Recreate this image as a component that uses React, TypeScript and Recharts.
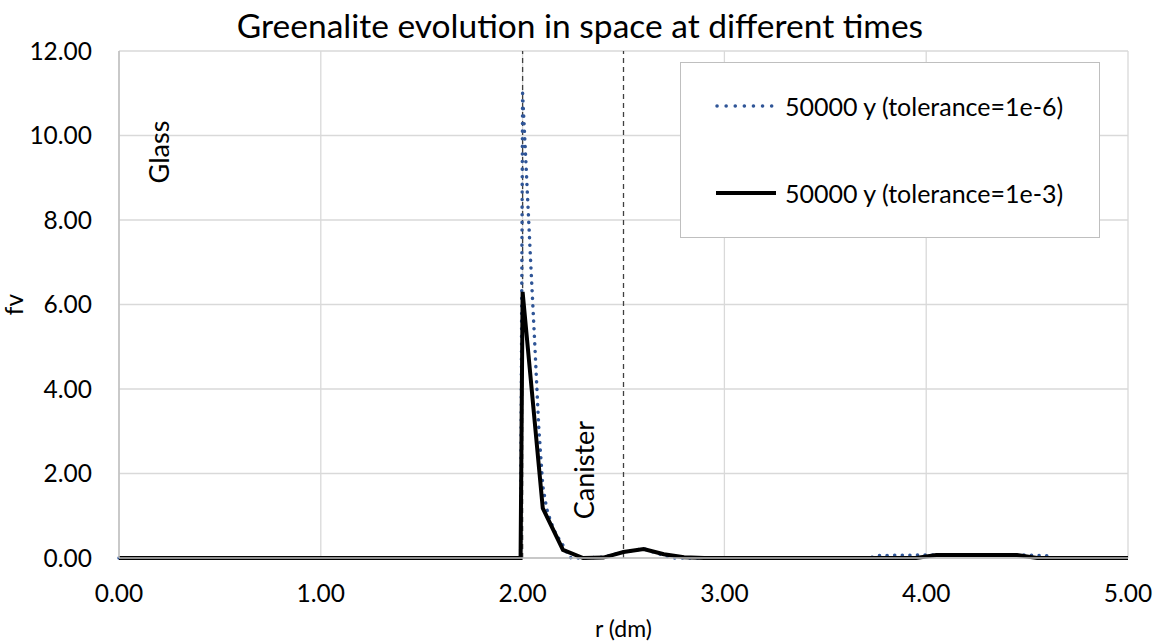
import { LineChart, Line, XAxis, YAxis, CartesianGrid, ReferenceLine, ReferenceArea, Legend } from 'recharts';

const FONT = 'Lato, "Open Sans", sans-serif';

// r (dm) positions and fv values, 50000 y, tolerance 1e-6 (fine mesh)
const R_TOL6 = [0, 0.5, 1.0, 1.5, 1.99, 2.0, 2.02, 2.04, 2.06, 2.08, 2.1, 2.12, 2.14, 2.16, 2.18, 2.2, 2.22, 2.24, 2.3, 2.4, 2.5, 2.6, 2.7, 2.75, 3.0, 3.5, 3.72, 3.76, 4.0, 4.5, 4.6, 4.63, 5.0];
const FV_TOL6 = [0, 0, 0, 0, 0, 11.0, 9.0, 7.0, 5.1, 3.1, 1.7, 1.15, 0.85, 0.62, 0.45, 0.3, 0.12, 0.0, 0.0, 0.02, 0.14, 0.22, 0.06, 0.0, 0.0, 0.0, 0.0, 0.06, 0.07, 0.07, 0.05, 0.0, 0.0];

// 50000 y, tolerance 1e-3 (coarse mesh)
const R_TOL3 = [0, 0.5, 1.0, 1.5, 1.99, 2.0, 2.1, 2.2, 2.3, 2.4, 2.5, 2.6, 2.7, 2.8, 2.9, 3.0, 3.5, 3.95, 4.05, 4.45, 4.55, 5.0];
const FV_TOL3 = [0, 0, 0, 0, 0, 6.3, 1.18, 0.19, 0.0, 0.01, 0.14, 0.21, 0.09, 0.02, 0.0, 0.0, 0.0, 0.0, 0.07, 0.07, 0.0, 0.0];

const SERIES_NAMES = ['50000 y (tolerance=1e-6)', '50000 y (tolerance=1e-3)'];
const X_TICKS = [0, 1, 2, 3, 4, 5];
const Y_TICKS = [0, 2, 4, 6, 8, 10, 12];

const tol6 = R_TOL6.map((r, i) => ({ r, fv: FV_TOL6[i] }));
const tol3 = R_TOL3.map((r, i) => ({ r, fv: FV_TOL3[i] }));

function RegionLabel({ viewBox, text, dx, dy }: any) {
  const x = viewBox.x + dx;
  const y = viewBox.y + dy;
  return (
    <text x={x} y={y} transform={`rotate(-90 ${x} ${y})`} textAnchor="middle" dominantBaseline="central"
      fontFamily={FONT} fontSize={27} fill="#000">
      {text}
    </text>
  );
}

function LegendBox({ payload }: any) {
  const items = [...(payload || [])].sort((a: any, b: any) => SERIES_NAMES.indexOf(a.value) - SERIES_NAMES.indexOf(b.value));
  return (
    <div style={{ width: 420, height: 176, border: '1px solid #bfbfbf', background: '#fff', boxSizing: 'border-box', fontFamily: FONT, fontSize: 25, color: '#000' }}>
      {items.map((p: any, i: number) => (
        <div key={i} style={{ position: 'absolute', left: 35, top: i === 0 ? 27 : 114, height: 34, display: 'flex', alignItems: 'center' }}>
          <svg width={64} height={10} style={{ marginRight: 6 }}>
            {p.value === SERIES_NAMES[0] ? (
              <line x1={2} y1={5} x2={58} y2={5} stroke="#2f5597" strokeWidth={3.5} strokeDasharray="0.1 9" strokeLinecap="round" />
            ) : (
              <line x1={1} y1={5} x2={61} y2={5} stroke="#000" strokeWidth={4} />
            )}
          </svg>
          <span>{p.value}</span>
        </div>
      ))}
    </div>
  );
}

export default function App() {
  return (
    <div style={{ position: 'absolute', left: 0, top: 0, width: 1160, height: 644, background: '#fff' }}>
      <div style={{ position: 'absolute', left: 0, top: 5, width: 1160, textAlign: 'center', fontFamily: FONT, fontSize: 33.5, color: '#000' }}>
        Greenalite evolution in space at different times
      </div>
      <LineChart width={1160} height={644} margin={{ top: 51, right: 32, bottom: 0, left: 0 }}>
        <CartesianGrid stroke="#d9d9d9" strokeWidth={1.3} />
        <XAxis
          dataKey="r"
          type="number"
          domain={[0, 5]}
          ticks={X_TICKS}
          allowDuplicatedCategory={false}
          tickFormatter={(v: number) => v.toFixed(2)}
          height={86}
          tickLine={false}
          tickSize={0}
          tickMargin={27}
          axisLine={{ stroke: '#bfbfbf', strokeWidth: 1.5 }}
          tick={{ fill: '#000', fontSize: 24.5, fontFamily: FONT }}
          label={{ value: 'r (dm)', position: 'insideBottom', offset: 7, fill: '#000', fontSize: 23, fontFamily: FONT }}
        />
        <YAxis
          type="number"
          domain={[0, 12]}
          ticks={Y_TICKS}
          tickFormatter={(v: number) => v.toFixed(2)}
          width={119}
          tickLine={false}
          tickSize={0}
          tickMargin={27}
          axisLine={{ stroke: '#bfbfbf', strokeWidth: 1.5 }}
          tick={{ fill: '#000', fontSize: 24.5, fontFamily: FONT }}
          label={{ value: 'fv', angle: -90, position: 'insideLeft', offset: 14, fill: '#000', fontSize: 24.5, fontFamily: FONT, style: { textAnchor: 'middle' } }}
        />
        <ReferenceArea x1={0} x2={2} y1={0} y2={12} fill="none" stroke="none"
          label={(props: any) => <RegionLabel viewBox={props.viewBox} text="Glass" dx={39} dy={101} />} />
        <ReferenceArea x1={2} x2={2.5} y1={0} y2={12} fill="none" stroke="none"
          label={(props: any) => <RegionLabel viewBox={props.viewBox} text="Canister" dx={61} dy={419} />} />
        <ReferenceLine x={2} stroke="#404040" strokeWidth={1.3} strokeDasharray="5 4" />
        <ReferenceLine x={2.5} stroke="#404040" strokeWidth={1.3} strokeDasharray="5 4" />
        <Line data={tol6} dataKey="fv" name={SERIES_NAMES[0]} type="linear" stroke="#2f5597" strokeWidth={3.5}
          strokeDasharray="0.1 7.5" strokeLinecap="round" dot={false} isAnimationActive={false} />
        <Line data={tol3} dataKey="fv" name={SERIES_NAMES[1]} type="linear" stroke="#000" strokeWidth={4}
          dot={false} isAnimationActive={false} />
        <Legend content={<LegendBox />} wrapperStyle={{ position: 'absolute', left: 680, top: 62, width: 420, height: 176 }}
          layout="horizontal" verticalAlign="middle" align="center" />
      </LineChart>
    </div>
  );
}
